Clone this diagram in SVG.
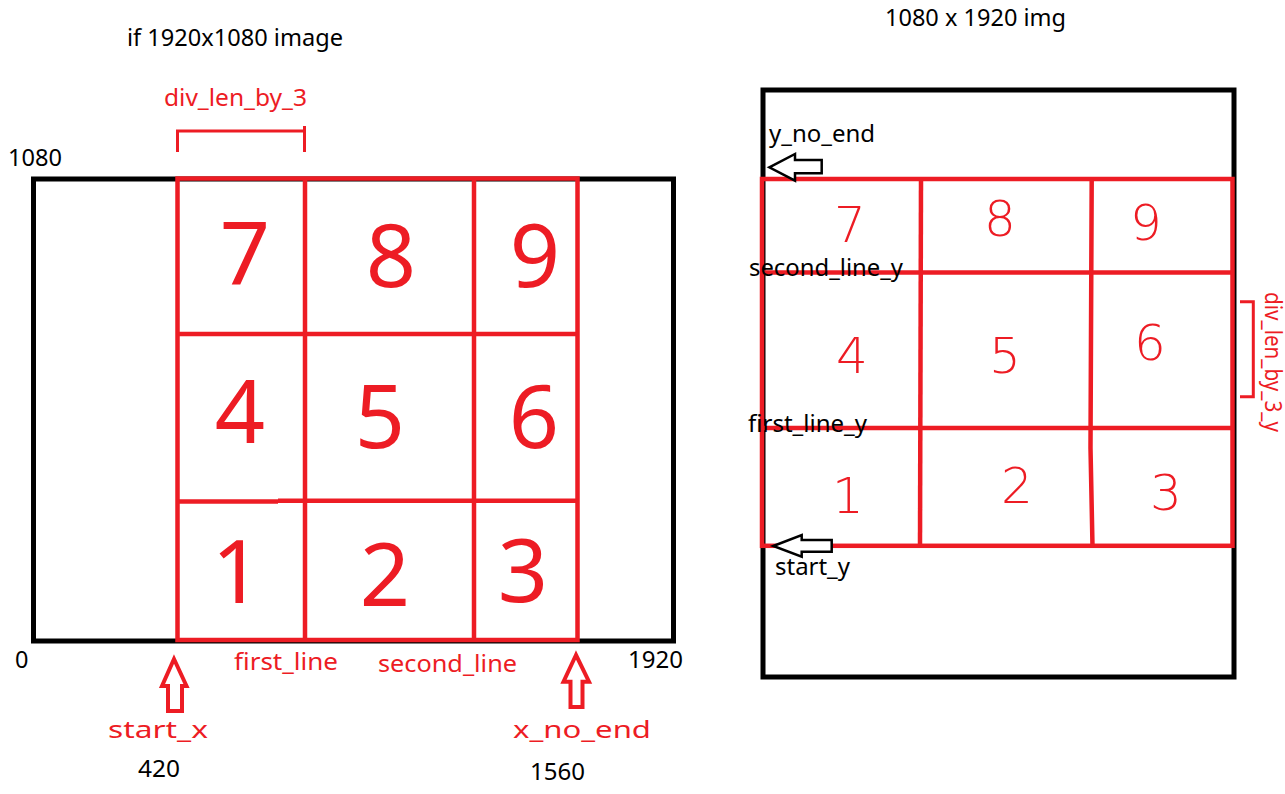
<svg xmlns="http://www.w3.org/2000/svg" width="1285" height="794" viewBox="0 0 1285 794">
<style>
.bk{fill:none;stroke:#000;stroke-width:5}
.rd{fill:none;stroke:#ED1C24;stroke-width:4.5}
.rdt{fill:none;stroke:#ED1C24;stroke-width:3}
.t{font-family:"Noto Sans","Open Sans",sans-serif;font-size:23.5px;fill:#000}
.tr{font-family:"Noto Sans","Open Sans",sans-serif;font-size:23.5px;fill:#ED1C24}
.big{font-family:"Noto Sans","Open Sans",sans-serif;font-size:88px;fill:#ED1C24;text-anchor:middle}
.hand{font-family:"DejaVu Sans",sans-serif;font-weight:200;font-size:50px;fill:#ED1C24;text-anchor:middle}
.arr{fill:#fff;stroke:#000;stroke-width:2.5;stroke-linejoin:miter}
.arrR{fill:none;stroke:#ED1C24;stroke-width:4;stroke-linejoin:miter}
</style>
<rect width="1285" height="794" fill="#fff"/>

<g id="left-image">
  <rect class="bk" x="33.5" y="179" width="640" height="462"/>
  <text class="t" x="127" y="46" font-size="24" textLength="216" lengthAdjust="spacingAndGlyphs">if 1920x1080 image</text>
  <text class="t" x="8" y="166" textLength="54" lengthAdjust="spacingAndGlyphs">1080</text>
  <text class="t" x="15" y="668">0</text>
  <text class="t" x="628" y="668" textLength="55" lengthAdjust="spacingAndGlyphs">1920</text>
</g>

<g id="left-grid">
  <rect class="rd" x="177.5" y="178.5" width="400" height="461.5" stroke-width="5.5"/>
  <line class="rd" x1="305" y1="178" x2="305" y2="640" stroke-width="4"/>
  <line class="rd" x1="474" y1="178" x2="474" y2="640" stroke-width="4"/>
  <line class="rd" x1="177" y1="334" x2="577" y2="334" stroke-width="4"/>
  <line class="rd" x1="177" y1="501.5" x2="278" y2="501.5" stroke-width="5"/>
  <line class="rd" x1="278" y1="500.7" x2="577" y2="500.7" stroke-width="4.5"/>
  <text class="big" x="245" y="285">7</text>
  <text class="big" x="391" y="287">8</text>
  <text class="big" x="535" y="287">9</text>
  <text class="big" x="240" y="443">4</text>
  <text class="big" x="380" y="448">5</text>
  <text class="big" x="534" y="448">6</text>
  <text class="big" x="237" y="603">1</text>
  <text class="big" x="385" y="606">2</text>
  <text class="big" x="523" y="602">3</text>
</g>

<g id="left-bracket">
  <path class="rdt" d="M177.5,152 V131 H304.5 V126"/>
  <path class="rdt" d="M304.5,131 V152"/>
  <text class="tr" x="164" y="106" textLength="143" lengthAdjust="spacingAndGlyphs">div_len_by_3</text>
</g>

<g id="left-labels">
  <text class="tr" x="234" y="670" textLength="104" lengthAdjust="spacingAndGlyphs">first_line</text>
  <text class="tr" x="378" y="672" textLength="139" lengthAdjust="spacingAndGlyphs">second_line</text>
  <text class="tr" x="108" y="738" font-size="33" textLength="100" lengthAdjust="spacingAndGlyphs">start_x</text>
  <text class="tr" x="513" y="738" font-size="33" textLength="138" lengthAdjust="spacingAndGlyphs">x_no_end</text>
  <text class="t" x="138" y="777" textLength="42" lengthAdjust="spacingAndGlyphs">420</text>
  <text class="t" x="530" y="780" textLength="55" lengthAdjust="spacingAndGlyphs">1560</text>
</g>

<g id="right-image">
  <rect class="bk" x="763" y="90" width="471" height="587"/>
  <text class="t" x="885" y="26" font-size="24" textLength="181" lengthAdjust="spacingAndGlyphs">1080 x 1920 img</text>
</g>

<g id="right-grid">
  <rect class="rd" x="762" y="179" width="470.5" height="366.8" stroke-width="4.8"/>
  <line class="rd" x1="921" y1="179" x2="920" y2="546" stroke-width="4.3"/>
  <path class="rd" d="M1091.7,179 L1090.5,448 L1092.5,546" stroke-width="4.3"/>
  <line class="rd" x1="762" y1="272.5" x2="1233" y2="272.5" stroke-width="4.5"/>
  <line class="rd" x1="762" y1="428" x2="1233" y2="428" stroke-width="4.5"/>
  <text class="hand" x="850" y="242">7</text>
  <text class="hand" x="1000" y="236">8</text>
  <text class="hand" x="1146" y="240">9</text>
  <text class="hand" x="852" y="373">4</text>
  <text class="hand" x="1005" y="373">5</text>
  <text class="hand" x="1150" y="360">6</text>
  <text class="hand" x="848" y="513">1</text>
  <text class="hand" x="1017" y="503">2</text>
  <text class="hand" x="1166" y="510">3</text>
</g>

<g id="right-bracket">
  <path class="rdt" d="M1240,301.7 H1253.3 V396.7 H1240"/>
  <text class="tr" font-size="14" textLength="140" lengthAdjust="spacingAndGlyphs" transform="translate(1265,292) rotate(90)">div_len_by_3_y</text>
</g>

<g id="right-labels">
  <text class="t" x="769" y="142" textLength="106" lengthAdjust="spacingAndGlyphs">y_no_end</text>
  <text class="t" x="749" y="276" textLength="154" lengthAdjust="spacingAndGlyphs">second_line_y</text>
  <text class="t" x="748" y="432" textLength="119" lengthAdjust="spacingAndGlyphs">first_line_y</text>
  <text class="t" x="775" y="575" textLength="75" lengthAdjust="spacingAndGlyphs">start_y</text>
</g>

<g id="connectors">
  <polygon class="arr" points="769.3,167.3 795,154 795,160 821.7,160 821.7,173.3 795,173.3 795,180.7"/>
  <polygon class="arr" points="773.3,546 801.7,535 801.7,540 831.7,540 831.7,551.7 801.7,551.7 801.7,556.7" fill="none"/>
  <polygon class="arrR" points="174,659 162,686 168,686 168,711 182,711 182,686 186.5,686"/>
  <polygon class="arrR" points="576,655 563.5,681.7 570.5,681.7 570.5,707 582.5,707 582.5,681.7 589,681.7"/>
</g>
</svg>
